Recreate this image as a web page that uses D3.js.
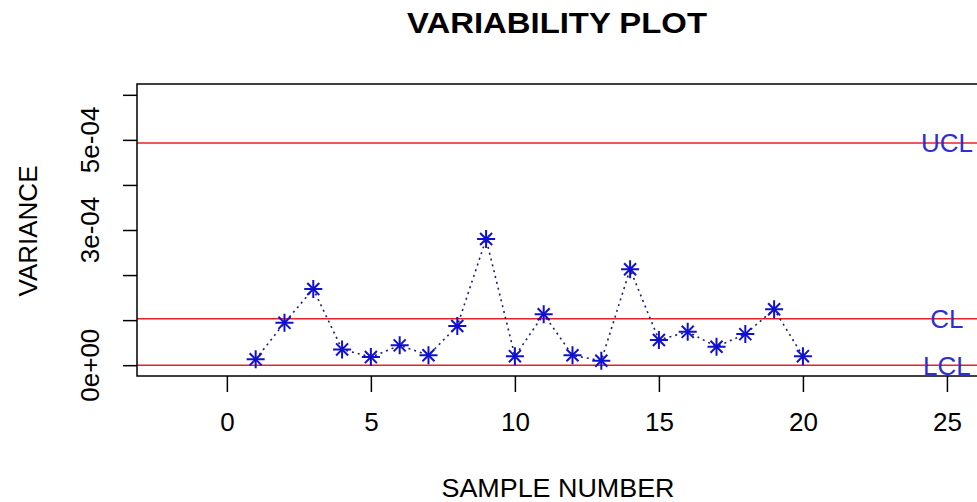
<!DOCTYPE html>
<html lang="en">
<head>
    <meta charset="UTF-8">
    <title>Variability plot</title>
    <style>
        body { margin: 0; background: #fff; }
        svg { display: block; font-family: "Liberation Sans", Arial, sans-serif; }
        .lim { stroke: #e8202a; stroke-width: 1.5; }
        .limtxt { fill: #2f2fd0; font-size: 26px; }
    </style>
</head>
<body>
    <div class="chart"></div>
    <script src="https://cdn.jsdelivr.net/npm/d3@7/dist/d3.min.js"></script>
    <script>
    "use strict";

    // sample numbers and their variance
    var samples = d3.range(1, 21);
    var variance = [1.3e-5, 9.4e-5, 1.69e-4, 3.5e-5, 1.8e-5, 4.4e-5, 2.2e-5, 8.7e-5, 2.80e-4, 2.0e-5,
                    1.13e-4, 2.2e-5, 1.0e-5, 2.13e-4, 5.6e-5, 7.4e-5, 4.1e-5, 6.9e-5, 1.24e-4, 2.0e-5];

    var limitNames = ['UCL', 'CL', 'LCL'];
    var limitValues = [4.93e-4, 1.03e-4, 0];

    var xTicks = [0, 5, 10, 15, 20, 25];
    var yTicks = [0, 1e-4, 2e-4, 3e-4, 4e-4, 5e-4, 6e-4];
    var yTickLabels = ['0e+00', '', '', '3e-04', '', '5e-04', ''];

    var width = 977, height = 502;
    var box = { left: 137, top: 84, right: 1008, bottom: 376 };

    var svg = d3.select('.chart').append('svg')
        .attr('width', width)
        .attr('height', height);

    // R style 4% padding around xlim c(-2, 26) and ylim c(0, 6e-4)
    var x = d3.scaleLinear().domain([-3.12, 27.12]).range([box.left, box.right]);
    var y = d3.scaleLinear().domain([-0.24e-4, 6.24e-4]).range([box.bottom, box.top]);

    // title + axis titles
    svg.append('text')
        .attr('x', 557).attr('y', 33)
        .attr('text-anchor', 'middle')
        .attr('textLength', 300).attr('lengthAdjust', 'spacingAndGlyphs')
        .style('font-size', '29px').style('font-weight', 'bold')
        .text('VARIABILITY PLOT');

    svg.append('text')
        .attr('x', 558).attr('y', 497)
        .attr('text-anchor', 'middle')
        .attr('textLength', 233).attr('lengthAdjust', 'spacingAndGlyphs')
        .style('font-size', '26px')
        .text('SAMPLE NUMBER');

    svg.append('text')
        .attr('transform', 'translate(37,231) rotate(-90)')
        .attr('text-anchor', 'middle')
        .style('font-size', '26px')
        .text('VARIANCE');

    // x axis
    var xAxis = svg.append('g')
        .attr('transform', 'translate(0,' + box.bottom + ')')
        .call(d3.axisBottom(x).tickValues(xTicks).tickSize(16).tickPadding(21));
    xAxis.select('.domain').remove();
    xAxis.selectAll('line').attr('stroke', '#000').attr('stroke-width', 1.5);
    xAxis.selectAll('text')
        .attr('fill', '#000')
        .style('font-size', '26px')
        .style('font-family', '"Liberation Sans", Arial, sans-serif');

    // y axis, labels rotated like base R
    var yAxis = svg.append('g')
        .attr('transform', 'translate(' + box.left + ',0)')
        .call(d3.axisLeft(y).tickValues(yTicks).tickSize(14).tickFormat(''));
    yAxis.select('.domain').remove();
    yAxis.selectAll('line').attr('stroke', '#000').attr('stroke-width', 1.5);

    svg.selectAll('text.ylab').data(yTicks).enter().append('text')
        .attr('class', 'ylab')
        .attr('transform', function(d) { return 'translate(99,' + y(d) + ') rotate(-90)'; })
        .attr('text-anchor', 'middle')
        .style('font-size', '26px')
        .text(function(d, i) { return yTickLabels[i]; });

    // control limits
    svg.selectAll('line.lim').data(limitValues).enter().append('line')
        .attr('class', 'lim')
        .attr('x1', box.left).attr('x2', box.right)
        .attr('y1', function(d) { return y(d); })
        .attr('y2', function(d) { return y(d); });

    svg.selectAll('text.limtxt').data(limitValues).enter().append('text')
        .attr('class', 'limtxt')
        .attr('x', x(25))
        .attr('y', function(d) { return y(d); })
        .attr('dy', '0.36em')
        .attr('text-anchor', 'middle')
        .text(function(d, i) { return limitNames[i]; });

    // dotted connecting line
    var pts = samples.map(function(s, i) { return [s, variance[i]]; });
    svg.append('path')
        .datum(pts)
        .attr('fill', 'none')
        .attr('stroke', '#1c1c70')
        .attr('stroke-width', 1.6)
        .attr('stroke-dasharray', '2,4')
        .attr('d', d3.line().x(function(d) { return x(d[0]); }).y(function(d) { return y(d[1]); }));

    // pch 8 stars: plus + times
    var plus = d3.symbol().type(d3.symbolPlus).size(108);
    var times = d3.symbol().type(d3.symbolTimes).size(96);
    var stars = svg.selectAll('g.star').data(pts).enter().append('g')
        .attr('class', 'star')
        .attr('transform', function(d) { return 'translate(' + x(d[0]) + ',' + y(d[1]) + ')'; });
    stars.append('path').attr('d', plus).attr('fill', 'none').attr('stroke', '#1010d0').attr('stroke-width', 2);
    stars.append('path').attr('d', times).attr('fill', 'none').attr('stroke', '#1010d0').attr('stroke-width', 2);

    // plot box
    svg.append('rect')
        .attr('x', box.left).attr('y', box.top)
        .attr('width', box.right - box.left)
        .attr('height', box.bottom - box.top)
        .attr('fill', 'none')
        .attr('stroke', '#000')
        .attr('stroke-width', 1.5);
    </script>
</body>
</html>
